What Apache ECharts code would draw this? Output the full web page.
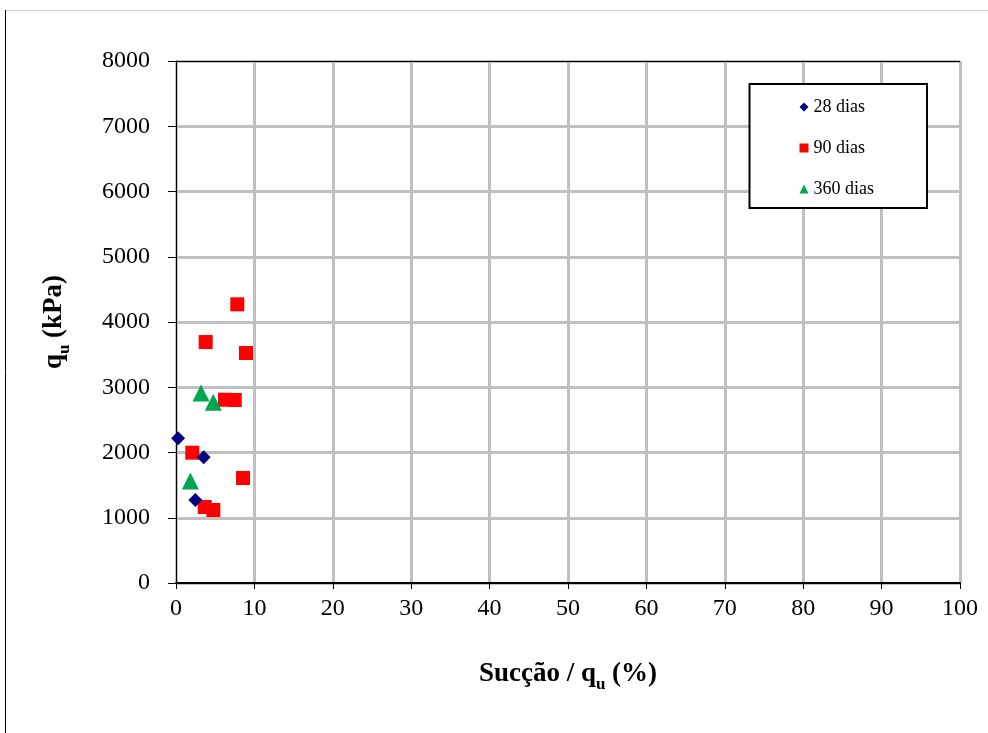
<!DOCTYPE html>
<html>
<head>
<meta charset="utf-8">
<script src="https://cdn.jsdelivr.net/npm/echarts@6/dist/echarts.min.js"></script>
<style>html,body{margin:0;padding:0;background:#fff}#c{width:988px;height:733px}</style>
</head>
<body>
<div id="c"></div>
<script>
// Data (x = Sucção / qu %, y = qu kPa)
var dias28 = [[0.26, 2218], [3.53, 1926], [2.46, 1272]];
var dias90 = [[7.82, 4271], [3.79, 3693], [8.93, 3525], [6.25, 2809], [7.49, 2805], [2.08, 1997], [8.55, 1609], [3.66, 1165], [4.76, 1119]];
var dias360 = [[3.19, 2912], [4.76, 2770], [1.83, 1563]];
var seriesNames = ['28 dias', '90 dias', '360 dias'];
var xTicks = [0, 10, 20, 30, 40, 50, 60, 70, 80, 90, 100];
var yTicks = [0, 1000, 2000, 3000, 4000, 5000, 6000, 7000, 8000];

var font = 'Liberation Serif, Times New Roman, serif';
var chart = echarts.init(document.getElementById('c'));
var nameRich = {
  b: { fontFamily: font, fontWeight: 'bold', fontSize: 27, color: '#000' },
  s: { fontFamily: font, fontWeight: 'bold', fontSize: 17, color: '#000', verticalAlign: 'bottom', padding: [0, 0, -5, 0] }
};
chart.setOption({
  backgroundColor: '#fff',
  animation: false,
  textStyle: { fontFamily: font },
  graphic: [
    { type: 'line', shape: { x1: 5, y1: 10.5, x2: 988, y2: 10.5 }, style: { stroke: '#d4d4d4', lineWidth: 1 } },
    { type: 'line', shape: { x1: 5.5, y1: 10, x2: 5.5, y2: 733 }, style: { stroke: '#000', lineWidth: 1 } }
  ],
  grid: { left: 176, right: 28, top: 61, bottom: 150 },
  legend: {
    orient: 'vertical',
    right: 61, top: 84,
    padding: [14, 53, 10, 50],
    borderColor: '#000', borderWidth: 2,
    backgroundColor: '#fff',
    itemWidth: 9, itemHeight: 9, itemGap: 23,
    textStyle: { fontFamily: font, fontSize: 18, color: '#000' },
    data: seriesNames
  },
  xAxis: {
    type: 'value', min: xTicks[0], max: xTicks[xTicks.length - 1], interval: 10,
    name: '{b|Sucção / q}{s|u}{b| (%)}',
    nameLocation: 'middle', nameGap: 78,
    nameTextStyle: { rich: nameRich },
    axisLine: { lineStyle: { color: '#000', width: 2 } },
    axisTick: { show: true, length: 6, lineStyle: { color: '#000', width: 1 } },
    axisLabel: { fontFamily: font, fontSize: 24, color: '#000', margin: 14 },
    splitLine: { show: true, lineStyle: { color: '#c0c0c0', width: 3 } }
  },
  yAxis: {
    type: 'value', min: yTicks[0], max: yTicks[yTicks.length - 1], interval: 1000,
    name: '{b|q}{s|u}{b| (kPa)}',
    nameLocation: 'middle', nameGap: 108, nameRotate: 90,
    nameTextStyle: { rich: nameRich },
    axisLine: { show: true, lineStyle: { color: '#000', width: 1 } },
    axisTick: { show: true, length: 8, lineStyle: { color: '#000', width: 1 } },
    axisLabel: { fontFamily: font, fontSize: 24, color: '#000', margin: 26, formatter: function (v) { return String(v); } },
    splitLine: { show: true, lineStyle: { color: '#c0c0c0', width: 3 } }
  },
  series: [
    { name: seriesNames[0], type: 'scatter', data: dias28, symbol: 'diamond', symbolSize: [14, 14], itemStyle: { color: '#000080', opacity: 1 }, z: 4 },
    { name: seriesNames[1], type: 'scatter', data: dias90, symbol: 'rect', symbolSize: 14, itemStyle: { color: '#ff0000', opacity: 1 }, z: 3,
      markLine: { silent: true, symbol: 'none', label: { show: false }, lineStyle: { color: '#000', width: 1, type: 'solid' },
        data: [{ yAxis: yTicks[yTicks.length - 1] }] } },
    { name: seriesNames[2], type: 'scatter', data: dias360, symbol: 'triangle', symbolSize: 17, itemStyle: { color: '#00a650', opacity: 1 }, z: 5 }
  ]
});
</script>
</body>
</html>
